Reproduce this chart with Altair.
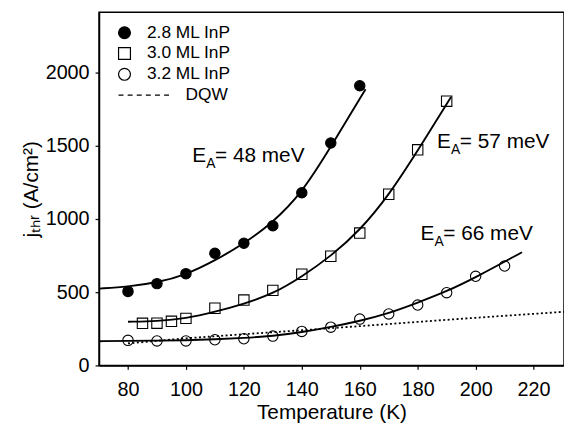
import altair as alt
import pandas as pd

# ---- measured data points ----
T28 = [80, 90, 100, 110, 120, 130, 140, 150, 160]
J28 = [505, 558, 626, 765, 834, 953, 1178, 1518, 1908]
T30 = [85, 90, 95, 100, 110, 120, 130, 140, 150, 160, 170, 180, 190]
J30 = [287, 288, 301, 321, 390, 446, 512, 622, 745, 903, 1168, 1471, 1803]
T32 = [80, 90, 100, 110, 120, 130, 140, 150, 160, 170, 180, 190, 200, 210]
J32 = [171, 167, 167, 175, 182, 200, 232, 261, 316, 351, 412, 496, 608, 678]

# ---- fitted curves ----
FT28 = [70, 80, 90, 100, 110, 120, 130, 140, 150, 162]
FJ28 = [524, 537, 565, 618, 715, 830, 975, 1175, 1490, 1885]
FT30 = [80, 90, 100, 110, 120, 130, 140, 150, 160, 170, 180, 191.5]
FJ30 = [298, 302, 320, 365, 420, 488, 605, 745, 920, 1160, 1465, 1832]
FT32 = [70, 80, 90, 100, 110, 120, 130, 140, 150, 160, 170, 180, 190, 200, 216]
FJ32 = [165, 168, 169, 171, 178, 187, 200, 226, 262, 303, 355, 428, 505, 600, 772]
DT = [80, 100, 120, 140, 160, 180, 200, 230.5]
DJ = [150, 185, 213, 240, 268, 297, 325, 366]

PAD = "\u200b" + "\u00a0" * 8
SERIES = ["2.8 ML InP", "3.0 ML InP", "3.2 ML InP", PAD + "DQW"]

# annotations
ANN_T = [102.2, 186.7, 181.0]
ANN_J = [1387, 1484, 858]
ANN_REST = ["= 48 meV", "= 57 meV", "= 66 meV"]

pts = pd.DataFrame(
    {"T": T28 + T30 + T32,
     "J": J28 + J30 + J32,
     "series": [SERIES[0]] * len(T28) + [SERIES[1]] * len(T30) + [SERIES[2]] * len(T32)}
)
fits = pd.DataFrame(
    {"T": FT28 + FT30 + FT32,
     "J": FJ28 + FJ30 + FJ32,
     "series": [SERIES[0]] * len(FT28) + [SERIES[1]] * len(FT30) + [SERIES[2]] * len(FT32)}
)
dqw = pd.DataFrame({"T": DT, "J": DJ})
ann = pd.DataFrame({"T": ANN_T, "J": ANN_J, "rest": ANN_REST})

FONT = "Liberation Sans"
xs = alt.Scale(domain=[70, 230.5], nice=False, zero=False)
ys = alt.Scale(domain=[0, 2410], nice=False)

xax = alt.Axis(values=[80, 100, 120, 140, 160, 180, 200, 220], title="Temperature (K)",
               labelPadding=10, titlePadding=3, format="d")
yax = alt.Axis(values=[0, 500, 1000, 1500, 2000], title="j\u209c\u2095\u1d63 (A/cm\u00b2)",
               labelPadding=6, titlePadding=4, format="d")

X = alt.X("T:Q", scale=xs, axis=xax)
Y = alt.Y("J:Q", scale=ys, axis=yax)

curves = alt.Chart(fits).mark_line(color="black", strokeWidth=1.9, interpolate="basis").encode(
    x=X, y=Y, detail="series:N")

dq = alt.Chart(dqw).mark_line(color="black", strokeWidth=1.8, strokeDash=[2, 2.5]).encode(
    x="T:Q", y="J:Q")

dash_path = ("M-1,0H-0.167M0.533,0H1.367M2.067,0H2.9M3.6,0H4.433"
             "M5.133,0H5.967M6.667,0H7.5")
leg = alt.Legend(title=None, orient="none", legendX=17, legendY=12, padding=0,
                 labelFont=FONT, labelFontSize=17.5, labelOffset=14, rowPadding=2,
                 symbolSize=144, symbolStrokeWidth=1.2, symbolOpacity=1)

points = alt.Chart(pts).mark_point(filled=True, strokeWidth=1.1, size=110,
                                   opacity=1).encode(
    x="T:Q", y="J:Q",
    shape=alt.Shape("series:N", scale=alt.Scale(domain=SERIES,
                    range=["circle", "square", "circle", dash_path]), legend=leg),
    fill=alt.Fill("series:N", scale=alt.Scale(domain=SERIES,
                  range=["black", "transparent", "transparent", "transparent"]), legend=leg),
    stroke=alt.Stroke("series:N", scale=alt.Scale(domain=SERIES,
                      range=["black", "black", "black", "black"]), legend=leg),
)

tE = alt.Chart(ann).mark_text(text="E", font=FONT, fontSize=21, align="left",
                              baseline="alphabetic", color="black").encode(x="T:Q", y="J:Q")
tA = alt.Chart(ann).mark_text(text="A", font=FONT, fontSize=14, align="left",
                              baseline="alphabetic", dx=14, dy=6, color="black").encode(
    x="T:Q", y="J:Q")
tR = alt.Chart(ann).mark_text(font=FONT, fontSize=21, align="left",
                              baseline="alphabetic", dx=23, color="black").encode(
    x="T:Q", y="J:Q", text="rest:N")

chart = alt.layer(curves, dq, points, tE, tA, tR).properties(
    width=470, height=357,
    autosize=alt.AutoSizeParams(type="none"),
    padding={"left": 92, "top": 2, "right": 0, "bottom": 62},
).configure_view(stroke="black", strokeWidth=1.5).configure_axis(
    grid=False, labelFont=FONT, titleFont=FONT, labelFontSize=20, titleFontSize=21,
    titleFontWeight="normal", labelColor="black", titleColor="black",
    domainColor="black", domainWidth=1.5, tickColor="black", tickSize=4, tickWidth=1.2,
)

chart.save("out.html", embed_options={"renderer": "svg", "actions": False})
